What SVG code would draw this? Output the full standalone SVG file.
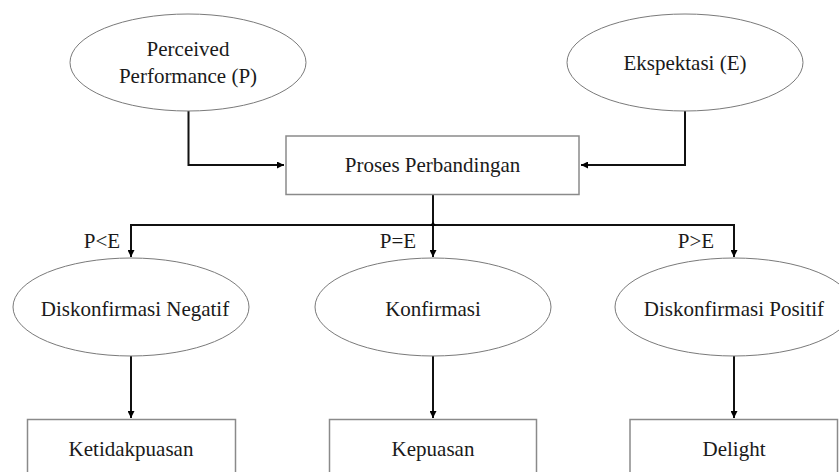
<svg xmlns="http://www.w3.org/2000/svg" width="839" height="472" viewBox="0 0 839 472">
<defs>
<marker id="ah" viewBox="0 0 10 10" refX="10" refY="5" markerWidth="7" markerHeight="7" markerUnits="userSpaceOnUse" orient="auto">
<path d="M0,0 L10,5 L0,10 z" fill="#000"/>
</marker>
<style>
.ell{fill:#fff;stroke:#7a7a7a;stroke-width:1}
.box{fill:#fff;stroke:#8a8a8a;stroke-width:1.5}
.t{font-family:'Liberation Serif','Times New Roman',serif;font-size:21px;fill:#1a1a1a;text-anchor:middle}
.c{fill:none;stroke:#111;stroke-width:2}
</style>
</defs>
<rect width="839" height="472" fill="#fff"/>
<g id="connectors">
<path class="c" d="M188.5,111 V165 H284" marker-end="url(#ah)"/>
<path class="c" d="M685,111 V165 H581" marker-end="url(#ah)"/>
<path class="c" d="M433,195 V257" marker-end="url(#ah)"/>
<path class="c" d="M131,257 V225 H734 V257" marker-end="url(#ah)"/>
<path class="c" d="M131,225 V257" marker-end="url(#ah)"/>
<path d="M430,226 L433,221.5 L436,226 z" fill="#000"/>
<path class="c" d="M131,356 V418" marker-end="url(#ah)"/>
<path class="c" d="M433,356 V418" marker-end="url(#ah)"/>
<path class="c" d="M734,356 V418" marker-end="url(#ah)"/>
<text class="t" x="102" y="248">P&lt;E</text>
<text class="t" x="398" y="248">P=E</text>
<text class="t" x="696" y="248">P&gt;E</text>
</g>
<g id="perceived">
<ellipse class="ell" cx="188" cy="62.5" rx="118" ry="48.5"/>
<text class="t" x="188" y="56">Perceived</text>
<text class="t" x="188" y="83">Performance (P)</text>
</g>
<g id="ekspektasi">
<ellipse class="ell" cx="685" cy="62.5" rx="118" ry="48.5"/>
<text class="t" x="685" y="70">Ekspektasi (E)</text>
</g>
<g id="proses">
<rect class="box" x="286" y="136" width="293" height="58.5"/>
<text class="t" x="432.5" y="172">Proses Perbandingan</text>
</g>
<g id="negatif">
<ellipse class="ell" cx="131" cy="307" rx="118" ry="49"/>
<text class="t" x="135" y="316">Diskonfirmasi Negatif</text>
</g>
<g id="konfirmasi">
<ellipse class="ell" cx="433" cy="307" rx="118" ry="49"/>
<text class="t" x="433" y="316">Konfirmasi</text>
</g>
<g id="positif">
<ellipse class="ell" cx="734" cy="307" rx="119" ry="49"/>
<text class="t" x="734" y="316">Diskonfirmasi Positif</text>
</g>
<g id="ketidakpuasan">
<rect class="box" x="27.5" y="419.5" width="208" height="60"/>
<text class="t" x="131" y="456">Ketidakpuasan</text>
</g>
<g id="kepuasan">
<rect class="box" x="329.5" y="419.5" width="207" height="60"/>
<text class="t" x="433" y="456">Kepuasan</text>
</g>
<g id="delight">
<rect class="box" x="630" y="419.5" width="207.5" height="60"/>
<text class="t" x="734" y="456">Delight</text>
</g>
</svg>
